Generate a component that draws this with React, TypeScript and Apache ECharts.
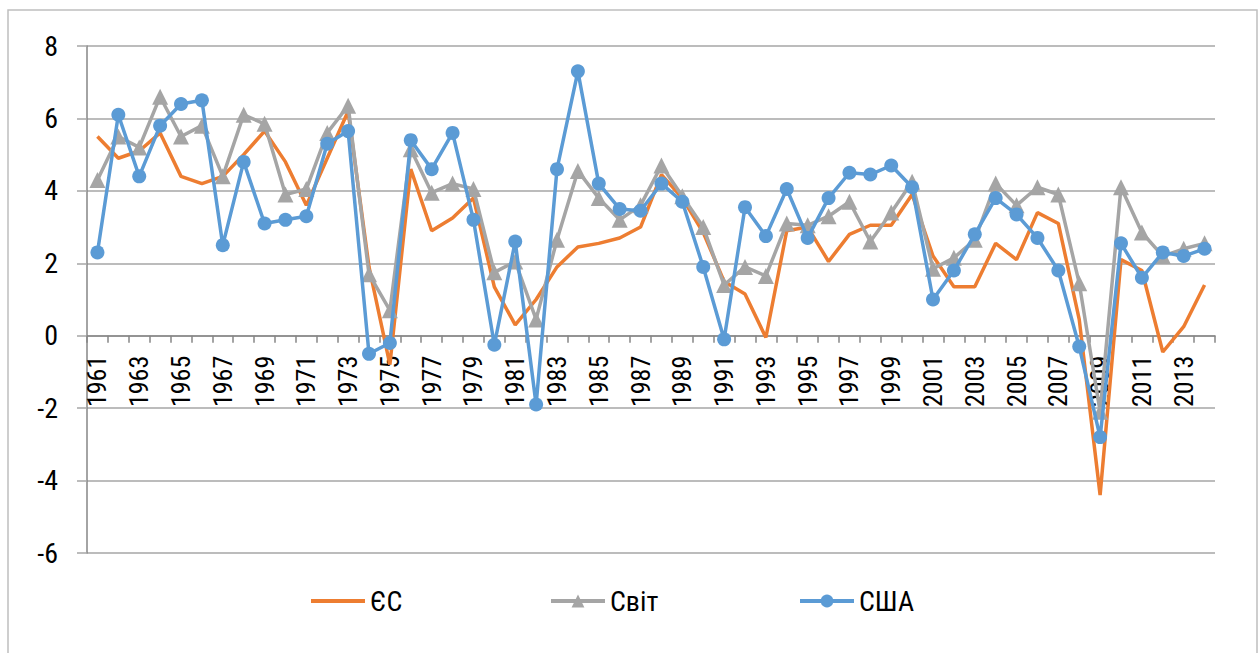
import React, { useEffect, useRef } from "react";
import * as echarts from "echarts";

const years = [
  "1961", "1962", "1963", "1964", "1965", "1966", "1967", "1968", "1969", "1970",
  "1971", "1972", "1973", "1974", "1975", "1976", "1977", "1978", "1979", "1980",
  "1981", "1982", "1983", "1984", "1985", "1986", "1987", "1988", "1989", "1990",
  "1991", "1992", "1993", "1994", "1995", "1996", "1997", "1998", "1999", "2000",
  "2001", "2002", "2003", "2004", "2005", "2006", "2007", "2008", "2009", "2010",
  "2011", "2012", "2013", "2014",
];

const euValues = [
  5.5, 4.9, 5.1, 5.6, 4.4, 4.2, 4.4, 5.0, 5.65, 4.8,
  3.6, 4.9, 6.2, 1.9, -0.8, 4.6, 2.9, 3.25, 3.8, 1.35,
  0.3, 1.0, 1.9, 2.45, 2.55, 2.7, 3.0, 4.45, 3.8, 2.85,
  1.5, 1.15, -0.05, 2.9, 3.0, 2.05, 2.8, 3.05, 3.05, 3.9,
  2.2, 1.35, 1.35, 2.55, 2.1, 3.4, 3.1, 0.45, -4.4, 2.1,
  1.8, -0.45, 0.25, 1.4,
];

const worldValues = [
  4.3, 5.5, 5.2, 6.6, 5.5, 5.8, 4.4, 6.1, 5.85, 3.9,
  4.05, 5.6, 6.35, 1.7, 0.7, 5.15, 3.95, 4.2, 4.05, 1.75,
  2.05, 0.45, 2.65, 4.55, 3.8, 3.2, 3.6, 4.7, 3.85, 3.0,
  1.4, 1.9, 1.65, 3.1, 3.05, 3.3, 3.7, 2.6, 3.4, 4.25,
  1.85, 2.15, 2.65, 4.2, 3.6, 4.1, 3.9, 1.45, -2.1, 4.1,
  2.85, 2.2, 2.4, 2.55,
];

const usaValues = [
  2.3, 6.1, 4.4, 5.8, 6.4, 6.5, 2.5, 4.8, 3.1, 3.2,
  3.3, 5.3, 5.65, -0.5, -0.2, 5.4, 4.6, 5.6, 3.2, -0.25,
  2.6, -1.9, 4.6, 7.3, 4.2, 3.5, 3.45, 4.2, 3.7, 1.9,
  -0.1, 3.55, 2.75, 4.05, 2.7, 3.8, 4.5, 4.45, 4.7, 4.1,
  1.0, 1.8, 2.8, 3.8, 3.35, 2.7, 1.8, -0.3, -2.8, 2.55,
  1.6, 2.3, 2.2, 2.4,
];

const seriesNames = ["ЄС", "Світ", "США"];
const yMin = -6;
const yMax = 8;
const yStep = 2;

const FONT = "'Liberation Sans Narrow', 'Arial Narrow', 'Roboto Condensed', 'Liberation Sans', sans-serif";
const ORANGE = "#ED7D31";
const GRAY = "#A5A5A5";
const BLUE = "#5B9BD5";

const GRID_TOP = 46;
const GRID_BOTTOM = 100;
const HEIGHT = 653;

export default function App() {
  const ref = useRef<HTMLDivElement>(null);

  useEffect(() => {
    if (!ref.current) return;
    const chart = echarts.init(ref.current, null, { renderer: "svg" });
    const plotH = HEIGHT - GRID_TOP - GRID_BOTTOM;
    const zeroOffset = -(plotH * (0 - yMin)) / (yMax - yMin);
    const legendCommon = {
      top: 582,
      itemWidth: 54,
      itemHeight: 16,
      lineStyle: { width: 4 },
      textStyle: { fontFamily: FONT, fontSize: 28, color: "#000" },
    };
    chart.setOption({
      animation: false,
      backgroundColor: "#fff",
      graphic: [
        {
          type: "rect",
          shape: { x: 8, y: 10, width: 1249, height: 700 },
          style: { fill: "none", stroke: "#BFBFBF", lineWidth: 1.5 },
          silent: true,
          z: -10,
        },
      ],
      grid: { left: 87, right: 45, top: GRID_TOP, bottom: GRID_BOTTOM, containLabel: false },
      legend: [
        {
          ...legendCommon,
          left: 306,
          itemHeight: 4,
          data: [{ name: seriesNames[0], icon: "rect" }],
        },
        { ...legendCommon, left: 544, data: [seriesNames[1]] },
        { ...legendCommon, left: 793, data: [seriesNames[2]] },
      ],
      xAxis: {
        type: "category",
        data: years,
        boundaryGap: true,
        position: "bottom",
        offset: zeroOffset,
        z: 0,
        axisLine: { onZero: false, lineStyle: { color: "#868686", width: 1.5 } },
        axisTick: { show: true, interval: 0, length: 7, lineStyle: { color: "#868686", width: 1.5 } },
        axisLabel: {
          interval: 1,
          rotate: 90,
          margin: 20,
          fontFamily: FONT,
          fontSize: 26,
          color: "#000",
        },
        splitLine: { show: false },
      },
      yAxis: {
        type: "value",
        min: yMin,
        max: yMax,
        interval: yStep,
        axisLine: { show: true, lineStyle: { color: "#868686", width: 1.5 } },
        axisTick: { show: true, length: 10, lineStyle: { color: "#A6A6A6", width: 1.5 } },
        axisLabel: { margin: 29, fontFamily: FONT, fontSize: 28, color: "#000" },
        splitLine: { show: true, lineStyle: { color: "#A6A6A6", width: 1.5 } },
      },
      series: [
        {
          name: seriesNames[0],
          type: "line",
          data: euValues,
          symbol: "none",
          showSymbol: false,
          lineStyle: { color: ORANGE, width: 3.5 },
          itemStyle: { color: ORANGE },
          z: 2,
        },
        {
          name: seriesNames[1],
          type: "line",
          data: worldValues,
          symbol: "triangle",
          symbolSize: 16,
          showAllSymbol: true,
          lineStyle: { color: GRAY, width: 3.5 },
          itemStyle: { color: GRAY },
          z: 3,
        },
        {
          name: seriesNames[2],
          type: "line",
          data: usaValues,
          symbol: "circle",
          symbolSize: 14,
          showAllSymbol: true,
          lineStyle: { color: BLUE, width: 3.5 },
          itemStyle: { color: BLUE },
          z: 4,
        },
      ],
    });
    return () => chart.dispose();
  }, []);

  return (
    <div
      ref={ref}
      style={{ position: "fixed", left: 0, top: 0, width: 1260, height: 653, background: "#fff" }}
    />
  );
}
